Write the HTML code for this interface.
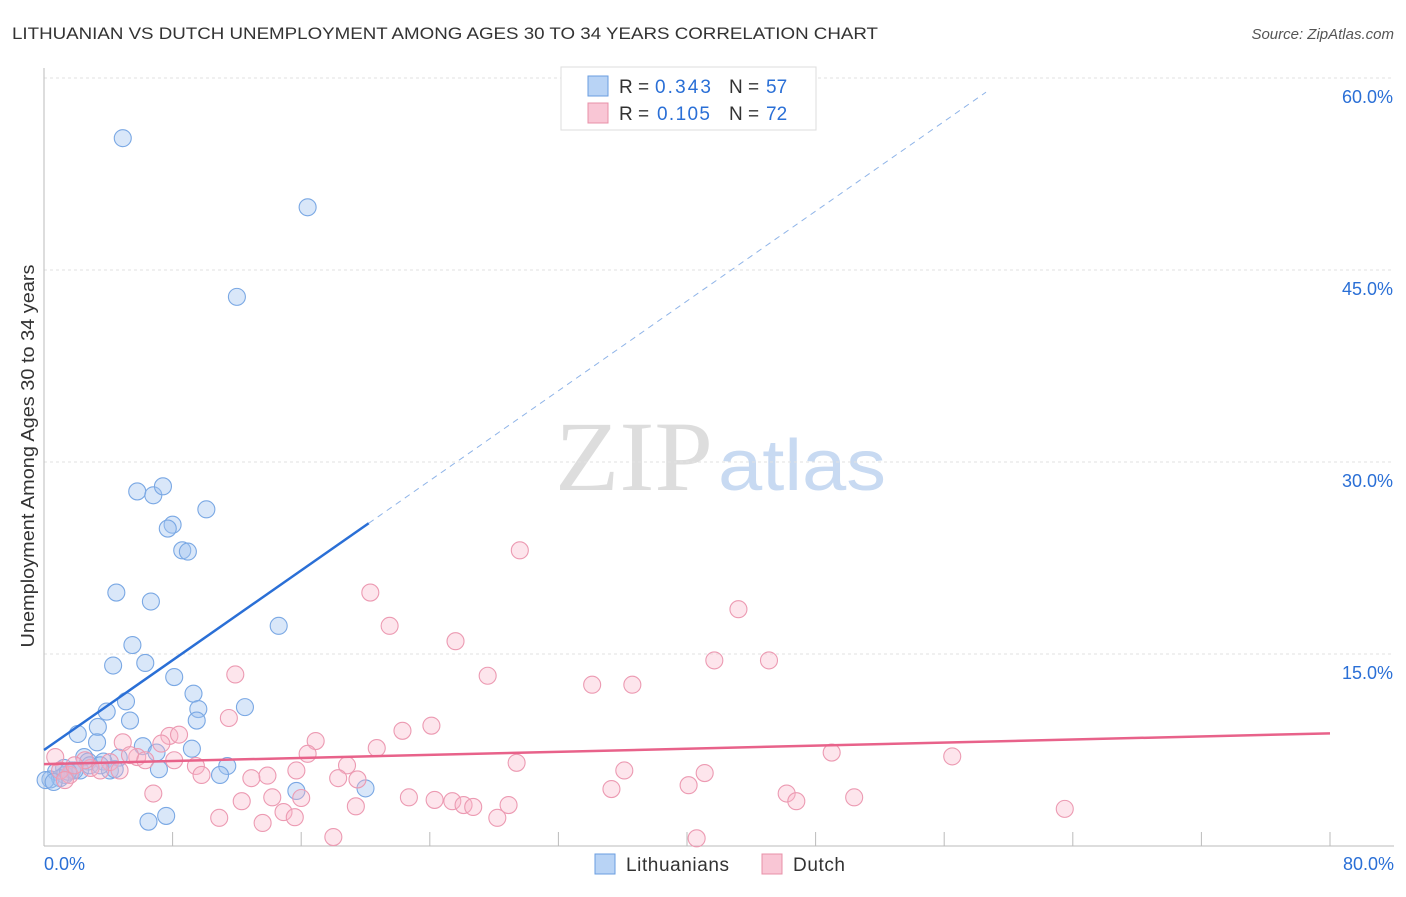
<!DOCTYPE html>
<html><head><meta charset="utf-8"><style>
body{margin:0;background:#fff;font-family:"Liberation Sans",sans-serif}
</style></head><body>
<svg id="chart" width="1406" height="892" font-family="Liberation Sans, sans-serif">
<text x="12" y="39" font-size="17" fill="#333" textLength="866" lengthAdjust="spacingAndGlyphs">LITHUANIAN VS DUTCH UNEMPLOYMENT AMONG AGES 30 TO 34 YEARS CORRELATION CHART</text>
<text x="1394" y="39" font-size="15" fill="#555" font-style="italic" text-anchor="end">Source: ZipAtlas.com</text>
<text x="34" y="456" font-size="18" fill="#333" text-anchor="middle" textLength="383" lengthAdjust="spacingAndGlyphs" transform="rotate(-90 34 456)">Unemployment Among Ages 30 to 34 years</text>
<g><text x="555" y="490" font-size="100" fill="#ddd" style="font-family:'Liberation Serif',serif" textLength="158" lengthAdjust="spacingAndGlyphs">ZIP</text><text x="718" y="490" font-size="72" fill="#c8daf2" textLength="168" lengthAdjust="spacingAndGlyphs">atlas</text></g>
<g id="grid"></g><g id="axes"></g><g id="pts"></g><g id="lines"></g>
<g>
<rect x="561" y="67" width="255" height="63" fill="#fff" stroke="#ddd"/>
<rect x="588" y="76" width="20" height="20" fill="#b8d3f5" stroke="#6a9ee0"/>
<rect x="588" y="103" width="20" height="20" fill="#f9c6d5" stroke="#e890a8"/>
<text x="619" y="93" font-size="19" fill="#333">R =</text><text x="655" y="93" font-size="19" fill="#2a6fd6" textLength="56">0.343</text>
<text x="729" y="93" font-size="19" fill="#333">N =</text><text x="766" y="93" font-size="19" fill="#2a6fd6">57</text>
<text x="619" y="120" font-size="19" fill="#333">R =</text><text x="657" y="120" font-size="19" fill="#2a6fd6" textLength="53">0.105</text>
<text x="729" y="120" font-size="19" fill="#333">N =</text><text x="766" y="120" font-size="19" fill="#2a6fd6">72</text>
</g>
<g>
<rect x="595" y="854" width="20" height="20" fill="#b8d3f5" stroke="#6a9ee0"/>
<text x="626" y="871" font-size="19" fill="#333" textLength="103">Lithuanians</text>
<rect x="762" y="854" width="20" height="20" fill="#f9c6d5" stroke="#e890a8"/>
<text x="793" y="871" font-size="19" fill="#333" textLength="52">Dutch</text>
</g>
</svg>
<script>
const yTicks=[15,30,45,60];
const xTickLabels=["0.0%","80.0%"];
const blueX=[4.9,16.4,12.0,5.8,6.8,7.4,10.1,8.0,7.7,8.6,8.95,4.5,6.65,14.6,5.5,6.3,4.3,8.1,9.3,9.6,5.1,12.5,3.9,5.35,9.5,3.35,2.1,3.3,9.2,6.15,7.0,2.5,4.65,3.7,2.75,1.25,4.1,1.75,4.4,7.15,0.75,2.25,11.4,10.95,1.3,0.4,1.0,0.1,0.6,15.7,20.0,7.6,6.5,1.9,1.5,2.85,3.5];
const blueY=[55.3,49.9,42.9,27.7,27.4,28.1,26.3,25.1,24.8,23.1,23.0,19.8,19.1,17.2,15.7,14.3,14.1,13.2,11.9,10.7,11.3,10.85,10.5,9.8,9.8,9.3,8.75,8.1,7.6,7.8,7.3,6.95,6.9,6.6,6.6,6.1,5.9,5.9,6.0,6.0,5.8,5.9,6.25,5.55,5.55,5.2,5.3,5.15,5.0,4.3,4.5,2.35,1.9,5.9,5.8,6.3,6.3];
const pinkX=[29.6,20.3,43.2,21.5,25.6,41.7,45.1,11.9,27.6,34.1,36.6,24.1,11.5,22.3,16.9,20.7,7.8,8.4,7.3,4.9,5.8,16.4,49.0,56.5,29.4,18.85,15.7,36.1,41.1,9.45,9.8,13.9,12.9,18.3,19.5,8.1,6.8,35.3,40.1,46.2,46.8,50.4,14.2,16.0,12.3,22.7,24.3,25.4,26.1,26.7,28.9,19.4,10.9,13.6,14.9,15.6,28.2,63.5,40.6,18.0,0.7,1.6,2.9,4.1,5.35,2.55,1.0,3.5,6.3,1.9,1.3,4.7];
const pinkY=[23.1,19.8,18.5,17.2,16.0,14.5,14.5,13.4,13.3,12.6,12.6,9.4,10.0,9.0,8.2,7.65,8.6,8.7,8.0,8.1,6.95,7.2,7.3,7.0,6.5,6.3,5.9,5.9,5.7,6.25,5.55,5.5,5.3,5.3,5.2,6.7,4.1,4.45,4.75,4.1,3.5,3.8,3.8,3.75,3.5,3.8,3.6,3.5,3.2,3.05,3.2,3.1,2.2,1.8,2.65,2.25,2.2,2.9,0.6,0.7,6.95,5.55,6.1,6.55,7.1,6.7,5.9,5.9,6.7,6.3,5.15,5.9];
const blueLine=[7.5,0.877];
const pinkLine=[6.4,0.03];
const X=v=>44+v*16.075, Y=v=>846-v*12.8;
const NS="http://www.w3.org/2000/svg";
function mk(tag,attrs,parent){const e=document.createElementNS(NS,tag);for(const k in attrs)e.setAttribute(k,attrs[k]);document.getElementById(parent).appendChild(e);return e;}
yTicks.forEach(t=>{
 const l=mk('line',{x1:44,x2:1394,y1:Y(t),y2:Y(t),stroke:'#e2e2e2','stroke-dasharray':'3 3'},'grid');
 
 
 const tx=mk('text',{x:1393,y:Y(t)+25,'font-size':18,fill:'#2a6fd6','text-anchor':'end'},'grid');
 tx.textContent=t.toFixed(1)+'%';
 
 
});
const ax=mk('line',{x1:44,x2:1394,y1:846,y2:846,stroke:'#bbb'},'axes');


const ay=mk('line',{x1:44,x2:44,y1:68,y2:846,stroke:'#bbb'},'axes');


for(let i=1;i<=10;i++){const t=mk('line',{x1:X(i*8),x2:X(i*8),y1:832,y2:846,stroke:'#bbb'},'axes');
 
 }
[[0,'start',44],[80,'end',1394]].forEach((d,i)=>{const t=mk('text',{x:d[2],y:870,'font-size':18,fill:'#2a6fd6','text-anchor':d[1]},'axes');t.textContent=xTickLabels[i];
 
 });
blueX.forEach((v,i)=>{const c=mk('circle',{cx:X(v),cy:Y(blueY[i]),r:8.5,fill:'rgba(160,196,240,0.4)',stroke:'#7aa8e4','stroke-width':1.1},'pts');
 
 });
pinkX.forEach((v,i)=>{const c=mk('circle',{cx:X(v),cy:Y(pinkY[i]),r:8.5,fill:'rgba(248,180,200,0.35)',stroke:'#ec9ab2','stroke-width':1.1},'pts');
 
 });
const bl=mk('line',{x1:X(0),y1:Y(blueLine[0]),x2:X(20.2),y2:Y(blueLine[0]+blueLine[1]*20.2),stroke:'#2a6fd6','stroke-width':2.5},'lines');


const bd=mk('line',{x1:X(20.2),y1:Y(blueLine[0]+blueLine[1]*20.2),x2:X(58.6),y2:Y(blueLine[0]+blueLine[1]*58.6),stroke:'#8fb4e8','stroke-width':1,'stroke-dasharray':'6 5'},'lines');


const pl=mk('line',{x1:X(0),y1:Y(pinkLine[0]),x2:X(80),y2:Y(pinkLine[0]+pinkLine[1]*80),stroke:'#e8628a','stroke-width':2.5},'lines');


</script>
</body></html>
